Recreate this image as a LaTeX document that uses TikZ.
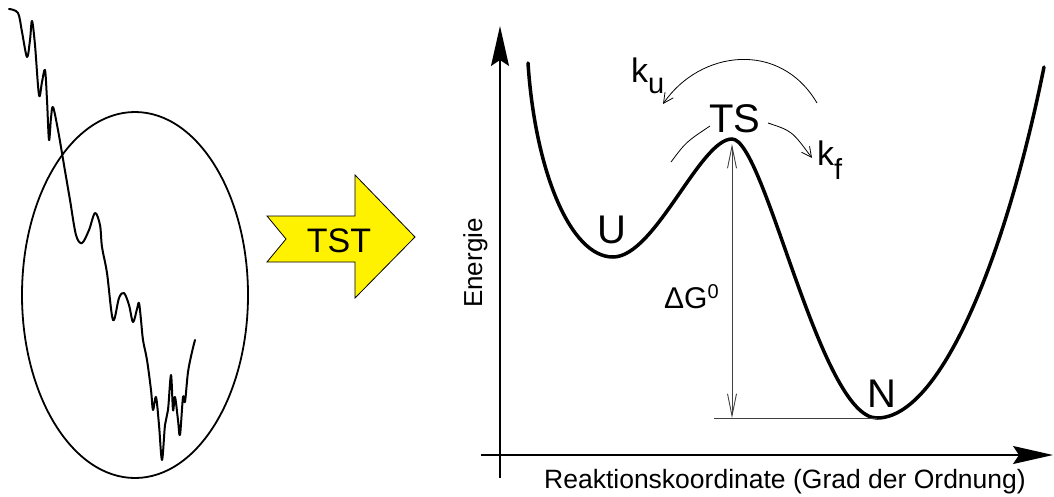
\documentclass[tikz,border=0pt]{standalone}
\usepackage{fontspec}
\setmainfont{Liberation Sans}
\usetikzlibrary{arrows.meta}
\newcommand\myfs[1]{\fontsize{#1}{#1}\selectfont}
\begin{document}
\begin{tikzpicture}[x=1pt,y=-1pt,
  lbl/.style={inner sep=0pt, anchor=base},
  energy/.style={line width=3.5pt, line cap=round},
  wiggle/.style={line width=2pt, line cap=round, line join=round},
  thinarc/.style={line width=0.8pt},
  thinarrow/.style={line width=0.8pt, -{Straight Barb[length=10pt,width=10pt]}},
  gapline/.style={line width=0.9pt, black!75},
  axis/.style={line width=1.6pt, -{Stealth[length=40pt,width=18pt,inset=6pt]}}]
\useasboundingbox (0,0) rectangle (1054,496);

% left: trajectory and ellipse
\draw[line width=1.8pt] (135,295) ellipse [x radius=113, y radius=183];
\draw[wiggle] plot[smooth, tension=0.55] coordinates {
 (9,9) (18,13) (22,32) (27,57) (30,40) (32,21) (35,45) (39,95) (42,82) (45,70)
 (47,100) (49,140) (51,118) (53,107) (58,130) (64,165) (70,200) (76,235) (82,243)
 (89,230) (95,213) (100,225) (102,247) (107,273) (113,320) (119,298) (124,293)
 (129,305) (133,322) (137,309) (139,303) (141,320) (143,340) (147,360) (151,390)
 (153,410) (156,397) (159,425) (162,460) (165,425) (168,410) (171,375) (173,410)
 (175,397) (178,420) (180,435) (183,397) (185,402) (188,372) (192,352) (195,340)};

% TST arrow
\draw[fill=yellow, line width=0.8pt] (267,216) -- (355,216) -- (355,175) -- (415,237)
  -- (355,298) -- (355,262) -- (267,262) -- (286,239) -- cycle;
\node[lbl] (tst) at (339,252) {\myfs{34}TST};

% axes
\coordinate (yb) at (500,478);
\coordinate (yt) at (500,26);
\coordinate (xl) at (481,455);
\coordinate (xr) at (1053,455);
\draw[axis] (yb) -- (yt);
\draw[axis] (xl) -- (xr);
\node[lbl, rotate=90] (energie) at (482,263) {\myfs{26}Energie};
\node[lbl] (rk) at (785,488) {\myfs{26.5}Reaktionskoordinate (Grad der Ordnung)};

% energy curve
\coordinate (c0) at (528,63);
\coordinate (umin) at (613,257);
\coordinate (tsmax) at (732,139);
\coordinate (nmin) at (877,418);
\coordinate (c4) at (1044,67);
\draw[energy] (c0) .. controls (535,170) and (570,257) .. (umin)
  .. controls (655,257) and (700,139) .. (tsmax)
  .. controls (765,139) and (820,418) .. (nmin)
  .. controls (940,418) and (1005,260) .. (c4);

% labels
\node[lbl] (ts) at (735,132) {\myfs{40}TS};
\node[lbl] (u) at (612,243) {\myfs{40}U};
\node[lbl] (n) at (882,407) {\myfs{40}N};

% Delta G
\coordinate (gtop) at (732,144);
\coordinate (gbot) at (732,418);
\coordinate (hl) at (714,418);
\draw[gapline] (hl) -- (nmin);
\draw[gapline, {Straight Barb[length=22pt,width=9pt]}-{Straight Barb[length=22pt,width=9pt]}] (gtop) -- (gbot);
\node[lbl, anchor=base west] (dg) at (664,308) {\myfs{30}ΔG\raisebox{10pt}{\myfs{20}0}};

% rates
\node[lbl, anchor=base west] (ku) at (631,82) {\myfs{34}k\raisebox{-11pt}{\myfs{29}u}};
\node[lbl, anchor=base west] (kf) at (817,165) {\myfs{34}k\raisebox{-14pt}{\myfs{29}f}};
\coordinate (a1s) at (817,103);
\coordinate (a1e) at (663,104);
\draw[thinarrow] (a1s) .. controls (780,40) and (700,50) .. (a1e);
\coordinate (a2s) at (671,162);
\coordinate (a2e) at (710,126);
\draw[thinarc] (a2s) .. controls (686,142) .. (a2e);
\coordinate (a3s) at (768,123);
\coordinate (a3e) at (812,158);
\draw[thinarrow] (a3s) .. controls (792,131) .. (a3e);
\end{tikzpicture}
\end{document}
